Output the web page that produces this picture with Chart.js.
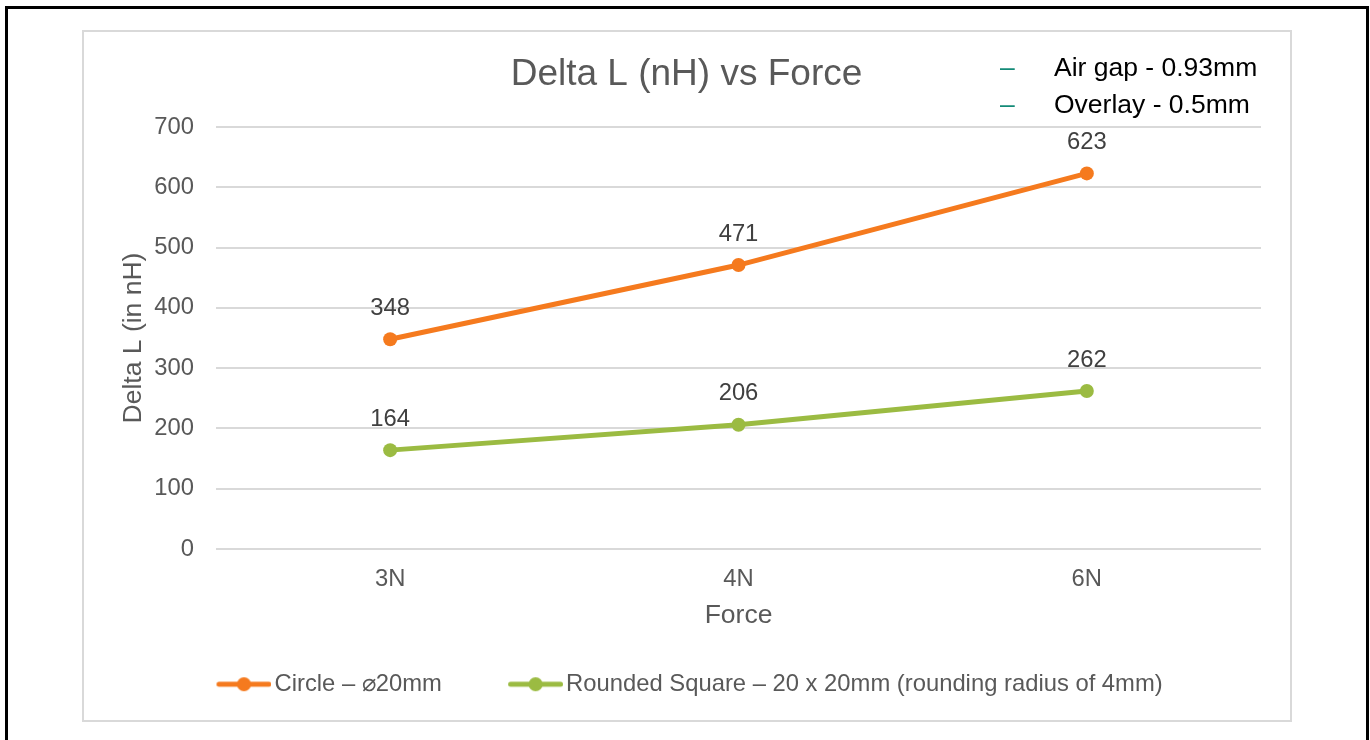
<!DOCTYPE html>
<html>
<head>
<meta charset="utf-8">
<title>Delta L (nH) vs Force</title>
<script src="https://cdn.jsdelivr.net/npm/chart.js@4/dist/chart.umd.min.js"></script>
<style>
  html, body { margin: 0; padding: 0; background: #fff; overflow: hidden; }
  #frame {
    position: absolute; left: 5px; top: 6px; width: 1358px; height: 740px;
    border: 3px solid #000; border-bottom: none;
  }
  #box {
    position: absolute; left: 82px; top: 30px; width: 1206px; height: 688px;
    border: 2px solid #d9d9d9;
  }
  #chart { position: absolute; left: 0; top: 0; }
  .note {
    position: absolute; left: 1000px; height: 37px; line-height: 37px;
    font-family: "Liberation Sans", Arial, sans-serif; font-size: 26.5px; color: #000;
    white-space: nowrap;
  }
  .note .dash { position: absolute; left: 0; color: #138a77; }
  .note .txt { position: absolute; left: 54px; }
</style>
</head>
<body>
<div id="frame"></div>
<div id="box"></div>
<canvas id="chart" width="1370" height="740"></canvas>
<div class="note" style="top:48.6px"><span class="dash">–</span><span class="txt">Air gap - 0.93mm</span></div>
<div class="note" style="top:85.6px"><span class="dash">–</span><span class="txt">Overlay - 0.5mm</span></div>
<script>
// Force levels on the x axis
const forces = ['3N', '4N', '6N'];
// Measured inductance change (nH) per coil shape
const circleDeltaL = [348, 471, 623];
const roundedSquareDeltaL = [164, 206, 262];
const seriesNames = ['Circle – ⌀20mm', 'Rounded Square – 20 x 20mm (rounding radius of 4mm)'];
const seriesColors = ['#f57a1e', '#9bbb42'];
// Value axis range
const yMin = 0;
const yMax = 700;
const yStep = 100;

const FONT = '"Liberation Sans", Arial, sans-serif';
const GREY = '#595959';
const SMALL = 23.8;
const MEDIUM = 26.5;

// Legend marker: a short line with a dot in the middle
function legendMarker(color) {
  const c = document.createElement('canvas');
  c.width = 70; c.height = 18;
  const g = c.getContext('2d');
  g.strokeStyle = color; g.lineWidth = 5; g.lineCap = 'round';
  g.beginPath(); g.moveTo(17.5, 9); g.lineTo(67.5, 9); g.stroke();
  g.fillStyle = color;
  g.beginPath(); g.arc(42.5, 9, 7, 0, Math.PI * 2); g.fill();
  return c;
}

// Value labels above each point
const pointValueLabels = {
  id: 'pointValueLabels',
  afterDatasetsDraw(chart) {
    const ctx = chart.ctx;
    ctx.save();
    ctx.font = SMALL + 'px ' + FONT;
    ctx.fillStyle = '#404040';
    ctx.textAlign = 'center';
    ctx.textBaseline = 'middle';
    chart.data.datasets.forEach((ds, i) => {
      chart.getDatasetMeta(i).data.forEach((pt, j) => {
        ctx.fillText(String(ds.data[j]), pt.x, pt.y - 31);
      });
    });
    ctx.restore();
  }
};

const datasets = [circleDeltaL, roundedSquareDeltaL].map((values, i) => ({
  label: seriesNames[i],
  data: values,
  borderColor: seriesColors[i],
  backgroundColor: seriesColors[i],
  borderWidth: 5,
  pointRadius: 7,
  pointHoverRadius: 7,
  pointBorderWidth: 0,
  tension: 0,
  fill: false
}));

new Chart(document.getElementById('chart'), {
  type: 'line',
  data: { labels: forces, datasets },
  plugins: [pointValueLabels],
  options: {
    responsive: false,
    animation: false,
    devicePixelRatio: 1,
    events: [],
    layout: { padding: { left: 112, right: 109, top: 30, bottom: 33.9 } },
    plugins: {
      tooltip: { enabled: false },
      title: {
        display: true,
        text: 'Delta L (nH) vs Force',
        color: GREY,
        font: { family: FONT, size: 37, weight: 'normal' },
        padding: { top: 22.8, bottom: 29.8 }
      },
      legend: {
        position: 'bottom',
        align: 'center',
        labels: {
          usePointStyle: true,
          pointStyleWidth: 52.3,
          padding: 60,
          color: GREY,
          font: { family: FONT, size: SMALL },
          generateLabels(chart) {
            return chart.data.datasets.map((ds, i) => ({
              text: ds.label,
              pointStyle: legendMarker(ds.borderColor),
              fillStyle: ds.borderColor,
              strokeStyle: ds.borderColor,
              lineWidth: 0,
              fontColor: GREY,
              hidden: false,
              datasetIndex: i
            }));
          }
        }
      }
    },
    scales: {
      x: {
        offset: true,
        grid: { display: false, drawTicks: false },
        border: { display: false },
        ticks: { padding: 16.5, color: GREY, font: { family: FONT, size: SMALL } },
        title: {
          display: true, text: 'Force', color: GREY,
          font: { family: FONT, size: MEDIUM },
          padding: { top: 0, bottom: -19.5 }
        },
        afterFit(scale) { scale.height = 63.3; }
      },
      y: {
        min: yMin,
        max: yMax,
        ticks: { stepSize: yStep, padding: 22, color: GREY, font: { family: FONT, size: SMALL } },
        grid: { color: '#d9d9d9', lineWidth: 2, drawTicks: false },
        border: { display: false },
        title: {
          display: true, text: 'Delta L (in nH)', color: GREY,
          font: { family: FONT, size: MEDIUM },
          padding: { top: 5.5, bottom: 0 }
        },
        afterFit(scale) { scale.width = 104; }
      }
    }
  }
});
</script>
</body>
</html>
